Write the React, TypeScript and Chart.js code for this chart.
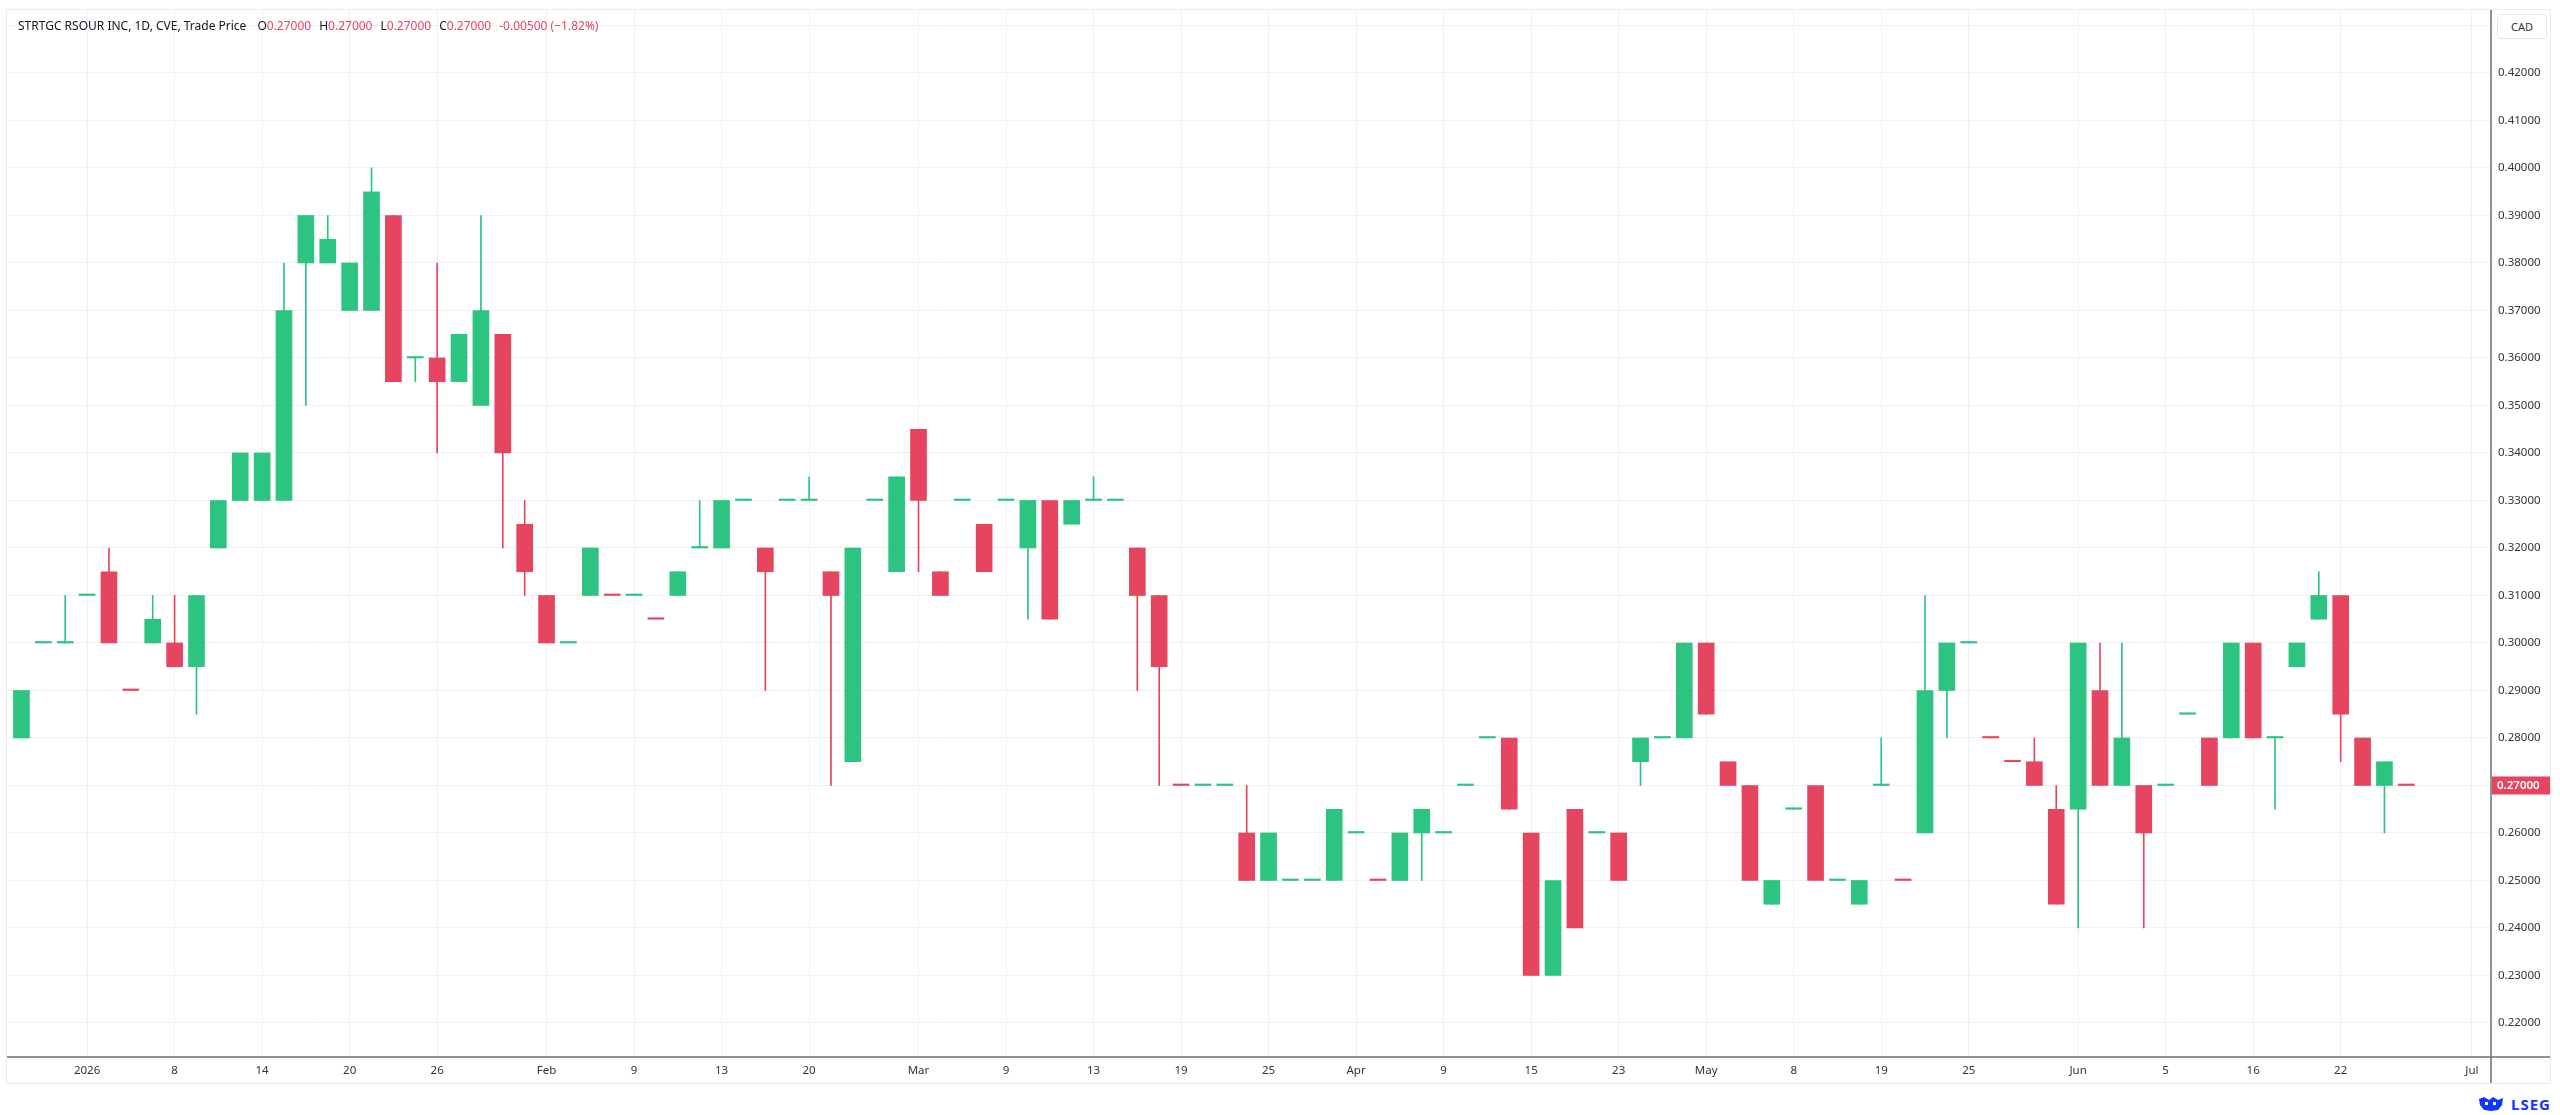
import { Chart, registerables } from "chart.js"
import React, { useEffect, useRef } from "react"

Chart.register(...registerables)

// daily candles, one per trading session (index 0 = first visible bar)
const opens = [
  0.28, 0.3, 0.3, 0.31, 0.315, 0.29, 0.3, 0.3, 0.295, 0.32,
  0.33, 0.33, 0.33, 0.38, 0.38, 0.37, 0.37, 0.39, 0.36, 0.36,
  0.355, 0.35, 0.365, 0.325, 0.31, 0.3, 0.31, 0.31, 0.31, 0.305,
  0.31, 0.32, 0.32, 0.33, 0.32, 0.33, 0.33, 0.315, 0.275, 0.33,
  0.315, 0.345, 0.315, 0.33, 0.325, 0.33, 0.32, 0.33, 0.325, 0.33,
  0.33, 0.32, 0.31, 0.27, 0.27, 0.27, 0.26, 0.25, 0.25, 0.25,
  0.25, 0.26, 0.25, 0.25, 0.26, 0.26, 0.27, 0.28, 0.28, 0.26,
  0.23, 0.265, 0.26, 0.26, 0.275, 0.28, 0.28, 0.3, 0.275, 0.27,
  0.245, 0.265, 0.27, 0.25, 0.245, 0.27, 0.25, 0.26, 0.29, 0.3,
  0.28, 0.275, 0.275, 0.265, 0.265, 0.29, 0.27, 0.27, 0.27, 0.285,
  0.28, 0.28, 0.3, 0.28, 0.295, 0.305, 0.31, 0.28, 0.27, 0.27,
]
const highs = [
  0.29, 0.3, 0.31, 0.31, 0.32, 0.29, 0.31, 0.31, 0.31, 0.33,
  0.34, 0.34, 0.38, 0.39, 0.39, 0.38, 0.4, 0.39, 0.36, 0.38,
  0.365, 0.39, 0.365, 0.33, 0.31, 0.3, 0.32, 0.31, 0.31, 0.305,
  0.315, 0.33, 0.33, 0.33, 0.32, 0.33, 0.335, 0.315, 0.32, 0.33,
  0.335, 0.345, 0.315, 0.33, 0.325, 0.33, 0.33, 0.33, 0.33, 0.335,
  0.33, 0.32, 0.31, 0.27, 0.27, 0.27, 0.27, 0.26, 0.25, 0.25,
  0.265, 0.26, 0.25, 0.26, 0.265, 0.26, 0.27, 0.28, 0.28, 0.26,
  0.25, 0.265, 0.26, 0.26, 0.28, 0.28, 0.3, 0.3, 0.275, 0.27,
  0.25, 0.265, 0.27, 0.25, 0.25, 0.28, 0.25, 0.31, 0.3, 0.3,
  0.28, 0.275, 0.28, 0.27, 0.3, 0.3, 0.3, 0.27, 0.27, 0.285,
  0.28, 0.3, 0.3, 0.28, 0.3, 0.315, 0.31, 0.28, 0.275, 0.27,
]
const lows = [
  0.28, 0.3, 0.3, 0.31, 0.3, 0.29, 0.3, 0.295, 0.285, 0.32,
  0.33, 0.33, 0.33, 0.35, 0.38, 0.37, 0.37, 0.355, 0.355, 0.34,
  0.355, 0.35, 0.32, 0.31, 0.3, 0.3, 0.31, 0.31, 0.31, 0.305,
  0.31, 0.32, 0.32, 0.33, 0.29, 0.33, 0.33, 0.27, 0.275, 0.33,
  0.315, 0.315, 0.31, 0.33, 0.315, 0.33, 0.305, 0.305, 0.325, 0.33,
  0.33, 0.29, 0.27, 0.27, 0.27, 0.27, 0.25, 0.25, 0.25, 0.25,
  0.25, 0.26, 0.25, 0.25, 0.25, 0.26, 0.27, 0.28, 0.265, 0.23,
  0.23, 0.24, 0.26, 0.25, 0.27, 0.28, 0.28, 0.285, 0.27, 0.25,
  0.245, 0.265, 0.25, 0.25, 0.245, 0.27, 0.25, 0.26, 0.28, 0.3,
  0.28, 0.275, 0.27, 0.245, 0.24, 0.27, 0.27, 0.24, 0.27, 0.285,
  0.27, 0.28, 0.28, 0.265, 0.295, 0.305, 0.275, 0.27, 0.26, 0.27,
]
const closes = [
  0.29, 0.3, 0.3, 0.31, 0.3, 0.29, 0.305, 0.295, 0.31, 0.33,
  0.34, 0.34, 0.37, 0.39, 0.385, 0.38, 0.395, 0.355, 0.36, 0.355,
  0.365, 0.37, 0.34, 0.315, 0.3, 0.3, 0.32, 0.31, 0.31, 0.305,
  0.315, 0.32, 0.33, 0.33, 0.315, 0.33, 0.33, 0.31, 0.32, 0.33,
  0.335, 0.33, 0.31, 0.33, 0.315, 0.33, 0.33, 0.305, 0.33, 0.33,
  0.33, 0.31, 0.295, 0.27, 0.27, 0.27, 0.25, 0.26, 0.25, 0.25,
  0.265, 0.26, 0.25, 0.26, 0.265, 0.26, 0.27, 0.28, 0.265, 0.23,
  0.25, 0.24, 0.26, 0.25, 0.28, 0.28, 0.3, 0.285, 0.27, 0.25,
  0.25, 0.265, 0.25, 0.25, 0.25, 0.27, 0.25, 0.29, 0.3, 0.3,
  0.28, 0.275, 0.27, 0.245, 0.3, 0.27, 0.28, 0.26, 0.27, 0.285,
  0.27, 0.3, 0.28, 0.28, 0.3, 0.31, 0.285, 0.27, 0.275, 0.27,
]
// flat candles that are drawn in the "down" colour
const redDojis = [5, 27, 29, 53, 62, 86, 90, 91, 109]

const tickIdx = [3, 7, 11, 15, 19, 24, 28, 32, 36, 41, 45, 49, 53, 57, 61, 65, 69, 73, 77, 81, 85, 89, 94, 98, 102, 106, 112]
const tickText = ["2026", "8", "14", "20", "26", "Feb", "9", "13", "20", "Mar", "9", "13", "19", "25", "Apr", "9", "15", "23", "May", "8", "19", "25", "Jun", "5", "16", "22", "Jul"]
const yTicks = [0.22, 0.23, 0.24, 0.25, 0.26, 0.27, 0.28, 0.29, 0.3, 0.31, 0.32, 0.33, 0.34, 0.35, 0.36, 0.37, 0.38, 0.39, 0.4, 0.41, 0.42, 0.43]

const UP = "#2dc481"
const DOWN = "#e5455f"
const GRID = "#f0f0f2"
const AXIS = "#6f6f6f"
const FONT = "'Noto Sans', 'Liberation Sans', sans-serif"

const isUp = (i: number) => closes[i] > opens[i] || (closes[i] === opens[i] && !redDojis.includes(i))
const colors = closes.map((_, i) => (isUp(i) ? UP : DOWN))

const last = closes.length - 1
const change = closes[last] - closes[last - 1]
const changePct = (change / closes[last - 1]) * 100

const frame: any = {
  id: "frame",
  afterDraw(chart: any) {
    const { ctx, chartArea, width, height } = chart
    const yScale = chart.scales.y
    ctx.save()
    ctx.strokeStyle = AXIS
    ctx.lineWidth = 1.5
    ctx.beginPath()
    ctx.moveTo(0, chartArea.bottom)
    ctx.lineTo(width, chartArea.bottom)
    ctx.moveTo(chartArea.right, 0)
    ctx.lineTo(chartArea.right, height)
    ctx.stroke()

    // last price tag on the price scale
    const py = yScale.getPixelForValue(closes[last])
    ctx.fillStyle = DOWN
    ctx.fillRect(chartArea.right + 1, py - 9, width - chartArea.right - 1, 18)
    ctx.fillStyle = "#ffffff"
    ctx.font = `600 11.5px ${FONT}`
    ctx.textBaseline = "middle"
    ctx.textAlign = "left"
    ctx.fillText(closes[last].toFixed(5), chartArea.right + 6, py + 0.5)
    ctx.restore()
  },
}

const CandleChart: React.FC = () => {
  const chartRef = useRef<HTMLCanvasElement>(null)
  const chartInstanceRef = useRef<Chart | null>(null)

  useEffect(() => {
    const ctx = chartRef.current?.getContext("2d")
    if (!ctx) return

    Chart.defaults.font.family = FONT

    chartInstanceRef.current = new Chart(ctx, {
      type: "bar",
      data: {
        datasets: [
          {
            label: "body",
            data: opens.map((o, i) => ({ x: i, y: [o, closes[i]] })) as any,
            backgroundColor: colors,
            borderWidth: 0,
            barThickness: 16,
            minBarLength: 1.5,
            grouped: false,
          },
          {
            label: "wick",
            data: lows.map((l, i) => ({ x: i, y: [l, highs[i]] })) as any,
            backgroundColor: colors,
            borderWidth: 0,
            barThickness: 1,
            grouped: false,
          },
        ],
      },
      options: {
        animation: false,
        responsive: true,
        maintainAspectRatio: false,
        layout: { padding: 0 },
        plugins: {
          legend: { display: false },
          tooltip: { enabled: false },
        },
        scales: {
          x: {
            type: "linear",
            min: -0.66,
            max: 112.87,
            offset: false,
            afterBuildTicks: (s: any) => {
              s.ticks = tickIdx.map((v) => ({ value: v }))
            },
            afterFit: (s: any) => {
              s.height = 26
              s.paddingLeft = 0
              s.paddingRight = 0
            },
            grid: { color: GRID, drawTicks: false, offset: false },
            border: { display: false },
            ticks: {
              autoSkip: false,
              maxRotation: 0,
              padding: 7,
              color: "#333333",
              font: { size: 11.5 },
              callback: (_v: any, i: number) => tickText[i],
            },
          },
          y: {
            position: "right",
            min: 0.21284,
            max: 0.43326,
            afterBuildTicks: (s: any) => {
              s.ticks = yTicks.map((v) => ({ value: v }))
            },
            afterFit: (s: any) => {
              s.width = 59
              s.paddingTop = 0
              s.paddingBottom = 0
            },
            grid: { color: GRID, drawTicks: false },
            border: { display: false },
            ticks: {
              padding: 7,
              color: "#333333",
              font: { size: 11.5 },
              callback: (v: any) => (Number(v) > 0.425 ? "" : Number(v).toFixed(5)),
            },
          },
        },
      },
      plugins: [frame],
    })

    return () => {
      chartInstanceRef.current?.destroy()
    }
  }, [])

  return <canvas ref={chartRef} />
}

const App: React.FC = () => {
  const red = { color: DOWN }
  return (
    <div style={{ position: "absolute", left: 0, top: 0, width: 2560, height: 1115, background: "#ffffff", fontFamily: FONT }}>
      <div style={{ position: "absolute", left: 6, top: 9, width: 2543, height: 1073, border: "1px solid #ececec" }}>
        <div style={{ position: "absolute", inset: 0 }}>
          <CandleChart />
        </div>
        <div style={{ position: "absolute", left: 11, top: 7, fontSize: 12, color: "#131722", whiteSpace: "nowrap" }}>
          <span>STRTGC RSOUR INC, 1D, CVE, Trade Price</span>
          <span style={{ marginLeft: 11 }}>O</span>
          <span style={red}>{opens[last].toFixed(5)}</span>
          <span style={{ marginLeft: 8 }}>H</span>
          <span style={red}>{highs[last].toFixed(5)}</span>
          <span style={{ marginLeft: 8 }}>L</span>
          <span style={red}>{lows[last].toFixed(5)}</span>
          <span style={{ marginLeft: 8 }}>C</span>
          <span style={red}>{closes[last].toFixed(5)}</span>
          <span style={{ ...red, marginLeft: 8 }}>
            {change.toFixed(5)} ({"\u2212"}
            {Math.abs(changePct).toFixed(2)}%)
          </span>
        </div>
        <div
          style={{
            position: "absolute",
            left: 2490,
            top: 4,
            width: 48,
            height: 23,
            border: "1px solid #e8e8e8",
            borderRadius: 4,
            background: "#ffffff",
            fontSize: 11,
            color: "#333333",
            display: "flex",
            alignItems: "center",
            justifyContent: "center",
          }}
        >
          CAD
        </div>
      </div>
      <div style={{ position: "absolute", left: 2477, top: 1094, display: "flex", alignItems: "center", color: "#1533ff" }}>
        <svg width="28" height="16" viewBox="0 0 28 16">
          <path d="M2 3 L7 1 L12 4 L16 1 L21 4 L26 2 L25 9 L21 14 L14 15 L7 14 L3 9 Z" fill="#1533ff" />
          <rect x="8" y="6" width="3" height="3" fill="#ffffff" />
          <rect x="16" y="6" width="3" height="3" fill="#ffffff" />
        </svg>
        <span style={{ marginLeft: 6, fontWeight: 700, fontSize: 15, letterSpacing: 1 }}>LSEG</span>
      </div>
    </div>
  )
}

export default App
